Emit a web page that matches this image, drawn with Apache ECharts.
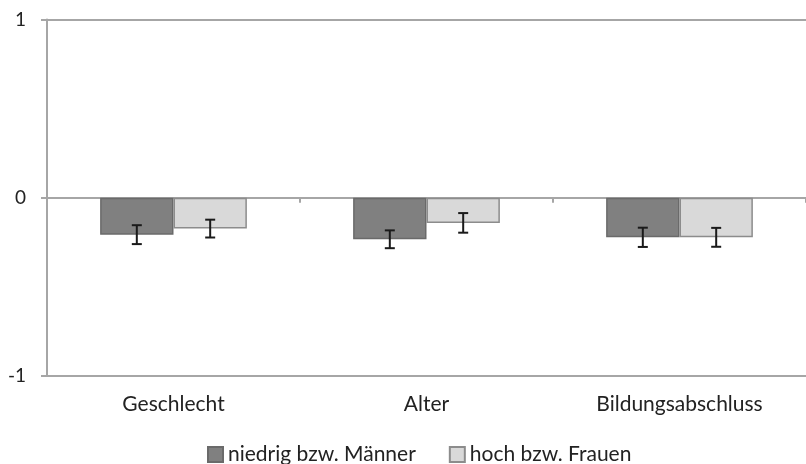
<!DOCTYPE html>
<html>
<head>
<meta charset="utf-8">
<script src="https://cdn.jsdelivr.net/npm/echarts@6/dist/echarts.min.js"></script>
<style>html,body{margin:0;padding:0;background:#fff;}#chart{width:806px;height:464px;}</style>
</head>
<body>
<div id="chart"></div>
<script>
var categories = ['Geschlecht', 'Alter', 'Bildungsabschluss'];
var seriesNames = ['niedrig bzw. Männer', 'hoch bzw. Frauen'];
var valuesMen = [-0.207, -0.233, -0.222];
var valuesWomen = [-0.173, -0.141, -0.222];
var errorMen = [0.053, 0.050, 0.054];
var errorWomen = [0.050, 0.055, 0.053];
var yTicks = [-1, 0, 1];

var FONT = 'Lato, "Open Sans", sans-serif';
var barFrac = 0.29; // bar width as fraction of category band

function errorSeries(vals, errs, side) {
  return {
    type: 'custom',
    xAxisIndex: 0,
    yAxisIndex: 0,
    z: 10,
    silent: true,
    data: vals.map(function (v, i) { return [i, v, errs[i]]; }),
    renderItem: function (params, api) {
      var i = api.value(0), v = api.value(1), e = api.value(2);
      var band = api.size([1, 0])[0];
      var c = api.coord([i, v]);
      var x = c[0] + side * band * barFrac / 2;
      var top = api.coord([i, v + e])[1];
      var bot = api.coord([i, v - e])[1];
      var cap = 5;
      var st = { stroke: '#1a1a1a', lineWidth: 2 };
      return {
        type: 'group',
        children: [
          { type: 'line', shape: { x1: x, y1: top, x2: x, y2: bot }, style: st },
          { type: 'line', shape: { x1: x - cap, y1: top, x2: x + cap, y2: top }, style: st },
          { type: 'line', shape: { x1: x - cap, y1: bot, x2: x + cap, y2: bot }, style: st }
        ]
      };
    }
  };
}

var chart = echarts.init(document.getElementById('chart'), null, { renderer: 'canvas' });
chart.setOption({
  animation: false,
  backgroundColor: '#ffffff',
  grid: { left: 47, right: -7, top: 19.5, bottom: 88, containLabel: false },
  legend: {
    bottom: -6,
    left: 202,
    itemWidth: 15,
    itemHeight: 15,
    itemGap: 33,
    icon: 'rect',
    textStyle: { fontFamily: FONT, fontSize: 21, color: '#222' },
    data: seriesNames
  },
  xAxis: [
    {
      type: 'category',
      data: categories,
      boundaryGap: true,
      axisLine: { onZero: true, lineStyle: { color: '#a6a6a6', width: 2 } },
      axisTick: { show: true, length: 5, lineStyle: { color: '#a6a6a6', width: 2 } },
      axisLabel: { show: false }
    },
    {
      type: 'category',
      data: categories,
      position: 'bottom',
      axisLine: { show: false, onZero: false },
      axisTick: { show: false },
      axisLabel: { margin: 18, fontFamily: FONT, fontSize: 21, color: '#222' }
    }
  ],
  yAxis: {
    type: 'value',
    min: yTicks[0],
    max: yTicks[yTicks.length - 1],
    interval: 1,
    axisLine: { show: true, lineStyle: { color: '#a6a6a6', width: 2 } },
    axisTick: { show: true, length: 6, lineStyle: { color: '#a6a6a6', width: 2 } },
    axisLabel: { margin: 21, fontFamily: FONT, fontSize: 19, color: '#222' },
    splitLine: { show: true, lineStyle: { color: '#a6a6a6', width: 2 } }
  },
  series: [
    {
      name: seriesNames[0],
      type: 'bar',
      xAxisIndex: 0,
      data: valuesMen,
      barGap: '0%',
      barCategoryGap: '42%',
      itemStyle: { color: '#808080', borderColor: '#6a6a6a', borderWidth: 1.5 }
    },
    {
      name: seriesNames[1],
      type: 'bar',
      xAxisIndex: 0,
      data: valuesWomen,
      barGap: '0%',
      barCategoryGap: '42%',
      itemStyle: { color: '#d9d9d9', borderColor: '#8c8c8c', borderWidth: 1.5 }
    },
    errorSeries(valuesMen, errorMen, -1),
    errorSeries(valuesWomen, errorWomen, 1)
  ]
});
</script>
</body>
</html>
